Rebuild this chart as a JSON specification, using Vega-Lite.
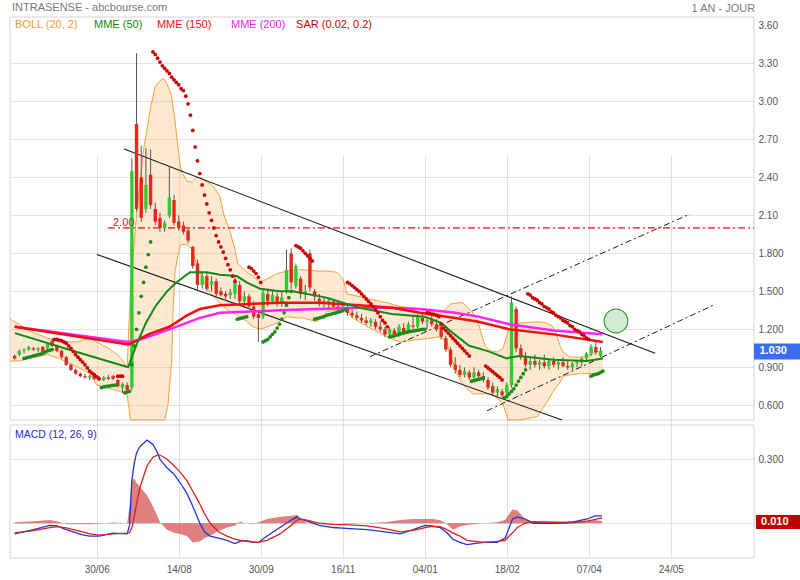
{
"$schema": "https://vega.github.io/schema/vega-lite/v6.json",
"width": 744, "height": 541,
"autosize": {"type": "none"},
"padding": {"left": 10, "top": 17, "right": 46, "bottom": 22},
"background": "white",
"config": {"view": {"stroke": null}, "font": "Liberation Sans", "axis": {"labelFont": "Liberation Sans", "labelFontSize": 10, "labelColor": "#555555", "gridColor": "#e2e2e2", "domain": false, "ticks": false, "titleOpacity": 0}},
"datasets": {
"candles": [
{"d":2,"o":0.99,"h":1.00,"l":0.96,"c":0.97},{"d":4,"o":1.00,"h":1.04,"l":0.99,"c":1.03},{"d":6,"o":1.03,"h":1.05,"l":1.01,"c":1.04},{"d":8,"o":1.04,"h":1.07,"l":1.03,"c":1.06},{"d":10,"o":1.05,"h":1.06,"l":1.03,"c":1.04},{"d":12,"o":1.04,"h":1.06,"l":1.02,"c":1.05},{"d":14,"o":1.06,"h":1.07,"l":1.01,"c":1.02},{"d":16,"o":1.05,"h":1.10,"l":1.04,"c":1.09},{"d":18,"o":1.11,"h":1.13,"l":1.06,"c":1.07},{"d":20,"o":1.07,"h":1.08,"l":1.02,"c":1.03},
{"d":22,"o":1.03,"h":1.04,"l":0.97,"c":0.98},{"d":24,"o":0.98,"h":0.99,"l":0.91,"c":0.92},{"d":26,"o":0.92,"h":0.93,"l":0.87,"c":0.88},{"d":28,"o":0.88,"h":0.89,"l":0.84,"c":0.85},{"d":30,"o":0.85,"h":0.86,"l":0.82,"c":0.83},{"d":32,"o":0.83,"h":0.85,"l":0.81,"c":0.82},{"d":34,"o":0.82,"h":0.84,"l":0.80,"c":0.83},{"d":36,"o":0.84,"h":0.85,"l":0.80,"c":0.81},{"d":38,"o":0.81,"h":0.83,"l":0.79,"c":0.80},{"d":40,"o":0.80,"h":0.83,"l":0.79,"c":0.82},
{"d":42,"o":0.82,"h":0.84,"l":0.80,"c":0.81},{"d":44,"o":0.83,"h":0.84,"l":0.80,"c":0.81},{"d":46,"o":0.80,"h":0.81,"l":0.74,"c":0.75},{"d":48,"o":0.74,"h":0.78,"l":0.70,"c":0.77},{"d":50,"o":0.76,"h":0.78,"l":0.71,"c":0.72},{"d":52,"o":0.74,"h":2.55,"l":0.72,"c":2.45},{"d":54,"o":2.82,"h":3.38,"l":2.13,"c":2.15},{"d":56,"o":2.40,"h":2.65,"l":2.05,"c":2.08},{"d":58,"o":2.15,"h":2.63,"l":2.12,"c":2.34},{"d":60,"o":2.42,"h":2.62,"l":2.15,"c":2.18},
{"d":62,"o":2.15,"h":2.20,"l":2.02,"c":2.05},{"d":64,"o":2.08,"h":2.12,"l":1.97,"c":2.00},{"d":66,"o":2.00,"h":2.06,"l":1.97,"c":2.04},{"d":68,"o":2.10,"h":2.48,"l":2.08,"c":2.24},{"d":70,"o":2.22,"h":2.26,"l":2.02,"c":2.04},{"d":72,"o":2.05,"h":2.10,"l":1.98,"c":2.00},{"d":74,"o":2.02,"h":2.05,"l":1.95,"c":1.97},{"d":76,"o":1.98,"h":2.00,"l":1.88,"c":1.90},{"d":78,"o":1.85,"h":1.86,"l":1.68,"c":1.70},{"d":80,"o":1.72,"h":1.75,"l":1.50,"c":1.55},
{"d":82,"o":1.55,"h":1.66,"l":1.52,"c":1.62},{"d":84,"o":1.62,"h":1.65,"l":1.50,"c":1.52},{"d":86,"o":1.55,"h":1.62,"l":1.50,"c":1.58},{"d":88,"o":1.58,"h":1.60,"l":1.46,"c":1.48},{"d":90,"o":1.50,"h":1.53,"l":1.46,"c":1.47},{"d":92,"o":1.48,"h":1.50,"l":1.44,"c":1.46},{"d":94,"o":1.47,"h":1.52,"l":1.44,"c":1.49},{"d":96,"o":1.48,"h":1.62,"l":1.44,"c":1.58},{"d":98,"o":1.55,"h":1.58,"l":1.40,"c":1.42},{"d":100,"o":1.42,"h":1.50,"l":1.38,"c":1.46},
{"d":102,"o":1.46,"h":1.48,"l":1.36,"c":1.38},{"d":104,"o":1.38,"h":1.42,"l":1.28,"c":1.30},{"d":106,"o":1.32,"h":1.35,"l":1.10,"c":1.29},{"d":108,"o":1.30,"h":1.52,"l":1.28,"c":1.49},{"d":110,"o":1.48,"h":1.52,"l":1.38,"c":1.42},{"d":112,"o":1.42,"h":1.50,"l":1.40,"c":1.47},{"d":114,"o":1.46,"h":1.49,"l":1.38,"c":1.40},{"d":116,"o":1.40,"h":1.50,"l":1.38,"c":1.45},{"d":118,"o":1.50,"h":1.83,"l":1.48,"c":1.67},{"d":120,"o":1.80,"h":1.84,"l":1.52,"c":1.57},
{"d":122,"o":1.54,"h":1.72,"l":1.52,"c":1.70},{"d":124,"o":1.60,"h":1.62,"l":1.44,"c":1.48},{"d":126,"o":1.48,"h":1.55,"l":1.43,"c":1.50},{"d":128,"o":1.80,"h":1.83,"l":1.50,"c":1.53},{"d":130,"o":1.50,"h":1.52,"l":1.42,"c":1.46},{"d":132,"o":1.44,"h":1.48,"l":1.38,"c":1.42},{"d":134,"o":1.42,"h":1.46,"l":1.37,"c":1.40},{"d":136,"o":1.40,"h":1.45,"l":1.36,"c":1.43},{"d":138,"o":1.42,"h":1.44,"l":1.36,"c":1.38},{"d":140,"o":1.38,"h":1.42,"l":1.34,"c":1.36},
{"d":142,"o":1.36,"h":1.40,"l":1.33,"c":1.38},{"d":144,"o":1.37,"h":1.39,"l":1.31,"c":1.33},{"d":146,"o":1.33,"h":1.36,"l":1.29,"c":1.31},{"d":148,"o":1.31,"h":1.34,"l":1.27,"c":1.29},{"d":150,"o":1.29,"h":1.32,"l":1.25,"c":1.27},{"d":152,"o":1.27,"h":1.30,"l":1.23,"c":1.25},{"d":154,"o":1.25,"h":1.29,"l":1.22,"c":1.27},{"d":156,"o":1.26,"h":1.28,"l":1.20,"c":1.22},{"d":158,"o":1.22,"h":1.26,"l":1.18,"c":1.20},{"d":160,"o":1.20,"h":1.22,"l":1.14,"c":1.16},
{"d":162,"o":1.16,"h":1.22,"l":1.14,"c":1.20},{"d":164,"o":1.19,"h":1.21,"l":1.13,"c":1.15},{"d":166,"o":1.15,"h":1.24,"l":1.14,"c":1.22},{"d":168,"o":1.21,"h":1.25,"l":1.16,"c":1.18},{"d":170,"o":1.18,"h":1.26,"l":1.17,"c":1.24},{"d":172,"o":1.23,"h":1.30,"l":1.20,"c":1.22},{"d":174,"o":1.22,"h":1.32,"l":1.21,"c":1.30},{"d":176,"o":1.29,"h":1.33,"l":1.24,"c":1.26},{"d":178,"o":1.26,"h":1.30,"l":1.20,"c":1.27},{"d":180,"o":1.27,"h":1.33,"l":1.22,"c":1.24},
{"d":182,"o":1.24,"h":1.28,"l":1.18,"c":1.20},{"d":184,"o":1.22,"h":1.26,"l":1.12,"c":1.14},{"d":186,"o":1.13,"h":1.15,"l":1.02,"c":1.04},{"d":188,"o":1.04,"h":1.06,"l":0.90,"c":0.92},{"d":190,"o":0.92,"h":0.98,"l":0.85,"c":0.88},{"d":192,"o":0.88,"h":0.92,"l":0.82,"c":0.84},{"d":194,"o":0.84,"h":0.90,"l":0.82,"c":0.87},{"d":196,"o":0.86,"h":0.88,"l":0.80,"c":0.82},{"d":198,"o":0.82,"h":0.90,"l":0.81,"c":0.86},{"d":200,"o":0.86,"h":0.88,"l":0.80,"c":0.83},
{"d":202,"o":0.83,"h":0.86,"l":0.78,"c":0.80},{"d":204,"o":0.80,"h":0.82,"l":0.72,"c":0.74},{"d":206,"o":0.75,"h":0.78,"l":0.68,"c":0.70},{"d":208,"o":0.70,"h":0.75,"l":0.67,"c":0.73},{"d":210,"o":0.71,"h":0.73,"l":0.66,"c":0.68},{"d":212,"o":0.70,"h":0.78,"l":0.67,"c":0.76},{"d":214,"o":0.76,"h":1.46,"l":0.74,"c":1.41},{"d":216,"o":1.36,"h":1.38,"l":1.02,"c":1.05},{"d":218,"o":1.05,"h":1.08,"l":0.96,"c":0.98},{"d":220,"o":0.98,"h":1.02,"l":0.90,"c":0.92},
{"d":222,"o":0.92,"h":0.98,"l":0.88,"c":0.95},{"d":224,"o":0.95,"h":1.00,"l":0.90,"c":0.92},{"d":226,"o":0.92,"h":0.96,"l":0.88,"c":0.94},{"d":228,"o":0.94,"h":1.00,"l":0.89,"c":0.91},{"d":230,"o":0.91,"h":0.97,"l":0.88,"c":0.95},{"d":232,"o":0.95,"h":0.98,"l":0.90,"c":0.92},{"d":234,"o":0.92,"h":0.96,"l":0.88,"c":0.94},{"d":236,"o":0.94,"h":0.98,"l":0.90,"c":0.91},{"d":238,"o":0.91,"h":0.95,"l":0.88,"c":0.90},{"d":240,"o":0.90,"h":0.94,"l":0.88,"c":0.93},
{"d":242,"o":0.93,"h":0.96,"l":0.90,"c":0.94},{"d":244,"o":0.94,"h":0.98,"l":0.91,"c":0.97},{"d":246,"o":0.97,"h":1.02,"l":0.95,"c":1.01},{"d":248,"o":1.01,"h":1.08,"l":0.99,"c":1.06},{"d":250,"o":1.06,"h":1.10,"l":1.00,"c":1.02},{"d":252,"o":0.99,"h":1.06,"l":0.98,"c":1.03}
],
"bb": [
{"d":0,"u":1.28,"l":0.95},{"d":4,"u":1.24,"l":0.95},{"d":8,"u":1.19,"l":0.97},{"d":16,"u":1.13,"l":1.00},{"d":21,"u":1.10,"l":0.97},{"d":29,"u":1.10,"l":0.90},{"d":34,"u":1.13,"l":0.85},{"d":37,"u":1.10,"l":0.76},{"d":43,"u":1.04,"l":0.73},{"d":47,"u":0.98,"l":0.71},{"d":50,"u":0.90,"l":0.68},
{"d":51.5,"u":1.55,"l":0.485},{"d":54,"u":2.10,"l":0.485},{"d":57,"u":2.62,"l":0.485},{"d":60,"u":2.95,"l":0.485},{"d":62,"u":3.12,"l":0.485},{"d":65,"u":3.18,"l":0.485},{"d":66,"u":3.17,"l":0.485},{"d":67.4,"u":3.12,"l":0.60},{"d":69,"u":3.04,"l":0.95},{"d":69.6,"u":2.95,"l":1.35},{"d":70.4,"u":2.85,"l":1.65},{"d":71.3,"u":2.70,"l":1.75},{"d":72.6,"u":2.50,"l":1.86},{"d":73.4,"u":2.44,"l":1.87},{"d":75.5,"u":2.37,"l":1.87},{"d":77.7,"u":2.36,"l":1.83},{"d":79.8,"u":2.40,"l":1.70},{"d":81,"u":2.40,"l":1.65},{"d":82.4,"u":2.38,"l":1.58},{"d":85.4,"u":2.35,"l":1.49},{"d":86.6,"u":2.33,"l":1.46},{"d":89.6,"u":2.25,"l":1.41},{"d":91,"u":2.12,"l":1.38},{"d":93.9,"u":1.97,"l":1.34},{"d":96,"u":1.83,"l":1.32},{"d":97.3,"u":1.72,"l":1.31},{"d":98.2,"u":1.70,"l":1.30},{"d":101.2,"u":1.65,"l":1.26},{"d":103.7,"u":1.62,"l":1.22},{"d":106.7,"u":1.57,"l":1.20},{"d":110,"u":1.60,"l":1.22},{"d":114,"u":1.64,"l":1.25},{"d":118.3,"u":1.66,"l":1.30},{"d":122.5,"u":1.67,"l":1.29},{"d":125,"u":1.67,"l":1.29},{"d":131,"u":1.66,"l":1.26},{"d":135.3,"u":1.66,"l":1.34},{"d":139.6,"u":1.65,"l":1.35},{"d":142.1,"u":1.60,"l":1.36},{"d":143.8,"u":1.48,"l":1.33},{"d":146.4,"u":1.47,"l":1.29},{"d":150.7,"u":1.45,"l":1.24},{"d":153.6,"u":1.44,"l":1.21},{"d":158,"u":1.42,"l":1.17},{"d":160.9,"u":1.41,"l":1.14},{"d":166.5,"u":1.38,"l":1.10},{"d":175,"u":1.36,"l":1.12},{"d":183.5,"u":1.32,"l":1.14},{"d":186.5,"u":1.37,"l":1.10},{"d":188,"u":1.40,"l":0.99},{"d":192,"u":1.41,"l":0.80},{"d":193.3,"u":1.41,"l":0.76},{"d":197.5,"u":1.33,"l":0.69},{"d":199.3,"u":1.28,"l":0.69},{"d":202.7,"u":1.07,"l":0.69},{"d":205,"u":1.03,"l":0.69},{"d":207.8,"u":1.02,"l":0.66},{"d":210.4,"u":1.05,"l":0.61},{"d":212.5,"u":1.18,"l":0.485},{"d":215.5,"u":1.24,"l":0.485},{"d":217.7,"u":1.25,"l":0.485},{"d":225,"u":1.26,"l":0.51},{"d":229,"u":1.25,"l":0.62},{"d":231.8,"u":1.22,"l":0.71},{"d":233.4,"u":1.15,"l":0.75},{"d":234.7,"u":1.07,"l":0.78},{"d":236,"u":1.02,"l":0.83},{"d":239,"u":0.98,"l":0.84},{"d":243,"u":0.98,"l":0.85},{"d":246,"u":0.99,"l":0.85},{"d":250.5,"u":1.02,"l":0.85},{"d":253,"u":1.03,"l":0.85}
],
"m50": [{"d":2.1,"v":1.17},{"d":25,"v":1.04},{"d":50.4,"v":0.90},{"d":52,"v":0.98},{"d":54.5,"v":1.10},{"d":58,"v":1.25},{"d":62,"v":1.38},{"d":67,"v":1.50},{"d":71,"v":1.57},{"d":76.8,"v":1.65},{"d":84,"v":1.65},{"d":89.6,"v":1.63},{"d":96.8,"v":1.62},{"d":101,"v":1.57},{"d":106.7,"v":1.52},{"d":115,"v":1.50},{"d":120.7,"v":1.50},{"d":135,"v":1.45},{"d":149,"v":1.37},{"d":163,"v":1.32},{"d":177,"v":1.30},{"d":184,"v":1.25},{"d":189,"v":1.17},{"d":196,"v":1.07},{"d":203.6,"v":1.03},{"d":212,"v":0.97},{"d":214,"v":0.98},{"d":217.6,"v":0.99},{"d":231.7,"v":0.96},{"d":246,"v":0.95},{"d":253,"v":0.97}],
"m150": [{"d":2,"v":1.22},{"d":50.4,"v":1.08},{"d":52,"v":1.09},{"d":55,"v":1.12},{"d":59,"v":1.16},{"d":68,"v":1.22},{"d":75.5,"v":1.31},{"d":81,"v":1.36},{"d":89.6,"v":1.39},{"d":115,"v":1.41},{"d":132,"v":1.41},{"d":149,"v":1.39},{"d":163,"v":1.37},{"d":175,"v":1.33},{"d":190,"v":1.29},{"d":200,"v":1.26},{"d":213,"v":1.20},{"d":232,"v":1.16},{"d":253,"v":1.10}],
"m200": [{"d":2,"v":1.22},{"d":50.4,"v":1.10},{"d":55,"v":1.115},{"d":68,"v":1.20},{"d":81,"v":1.29},{"d":89.6,"v":1.33},{"d":115,"v":1.35},{"d":132,"v":1.36},{"d":149,"v":1.37},{"d":163,"v":1.37},{"d":175,"v":1.36},{"d":190,"v":1.33},{"d":200,"v":1.30},{"d":213,"v":1.24},{"d":232,"v":1.19},{"d":253,"v":1.16}],
"sar": [
{"d":6,"v":0.97,"s":"b"},{"d":7,"v":0.975,"s":"b"},{"d":8,"v":0.98,"s":"b"},{"d":9,"v":0.985,"s":"b"},{"d":10,"v":0.99,"s":"b"},{"d":11,"v":0.995,"s":"b"},{"d":12,"v":1.0,"s":"b"},{"d":13,"v":1.005,"s":"b"},{"d":14,"v":1.01,"s":"b"},{"d":15,"v":1.02,"s":"b"},{"d":16,"v":1.03,"s":"b"},{"d":17,"v":1.035,"s":"b"},{"d":18,"v":1.04,"s":"b"},
{"d":19,"v":1.12,"s":"a"},{"d":20,"v":1.12,"s":"a"},{"d":21,"v":1.115,"s":"a"},{"d":22,"v":1.11,"s":"a"},{"d":23,"v":1.10,"s":"a"},{"d":24,"v":1.09,"s":"a"},{"d":25,"v":1.07,"s":"a"},{"d":26,"v":1.05,"s":"a"},{"d":27,"v":1.025,"s":"a"},{"d":28,"v":1.00,"s":"a"},{"d":29,"v":0.98,"s":"a"},{"d":30,"v":0.96,"s":"a"},{"d":31,"v":0.94,"s":"a"},{"d":32,"v":0.92,"s":"a"},{"d":33,"v":0.895,"s":"a"},{"d":34,"v":0.87,"s":"a"},{"d":35,"v":0.855,"s":"a"},{"d":36,"v":0.84,"s":"a"},{"d":37,"v":0.825,"s":"a"},{"d":38,"v":0.81,"s":"a"},
{"d":39,"v":0.74,"s":"b"},{"d":40,"v":0.745,"s":"b"},{"d":41,"v":0.75,"s":"b"},{"d":42,"v":0.752,"s":"b"},{"d":43,"v":0.755,"s":"b"},{"d":44,"v":0.757,"s":"b"},{"d":45,"v":0.76,"s":"b"},
{"d":46,"v":0.83,"s":"a"},{"d":47,"v":0.83,"s":"a"},{"d":48,"v":0.83,"s":"a"},
{"d":49,"v":0.70,"s":"b"},{"d":50,"v":0.705,"s":"b"},{"d":51,"v":0.71,"s":"b"},
{"d":52,"v":0.92,"s":"b"},{"d":53,"v":1.07,"s":"b"},{"d":54,"v":1.20,"s":"b"},{"d":55,"v":1.33,"s":"b"},{"d":56,"v":1.46,"s":"b"},{"d":57,"v":1.57,"s":"b"},{"d":58,"v":1.69,"s":"b"},{"d":59,"v":1.79,"s":"b"},{"d":60,"v":1.89,"s":"b"},
{"d":61,"v":3.39,"s":"a"},{"d":62,"v":3.37,"s":"a"},{"d":63,"v":3.34,"s":"a"},{"d":64,"v":3.31,"s":"a"},{"d":65,"v":3.28,"s":"a"},{"d":66,"v":3.26,"s":"a"},{"d":67,"v":3.24,"s":"a"},{"d":68,"v":3.22,"s":"a"},{"d":69,"v":3.19,"s":"a"},{"d":70,"v":3.17,"s":"a"},{"d":71,"v":3.15,"s":"a"},{"d":72,"v":3.13,"s":"a"},{"d":73,"v":3.10,"s":"a"},{"d":74,"v":3.085,"s":"a"},{"d":75,"v":3.04,"s":"a"},{"d":76,"v":2.98,"s":"a"},{"d":77,"v":2.89,"s":"a"},{"d":78,"v":2.77,"s":"a"},{"d":79,"v":2.64,"s":"a"},{"d":80,"v":2.53,"s":"a"},{"d":81,"v":2.43,"s":"a"},{"d":82,"v":2.34,"s":"a"},{"d":83,"v":2.26,"s":"a"},{"d":84,"v":2.19,"s":"a"},{"d":85,"v":2.12,"s":"a"},{"d":86,"v":2.06,"s":"a"},{"d":87,"v":2.00,"s":"a"},{"d":88,"v":1.94,"s":"a"},{"d":89,"v":1.89,"s":"a"},{"d":90,"v":1.85,"s":"a"},{"d":91,"v":1.81,"s":"a"},{"d":92,"v":1.76,"s":"a"},{"d":93,"v":1.71,"s":"a"},{"d":94,"v":1.67,"s":"a"},{"d":95,"v":1.62,"s":"a"},{"d":96,"v":1.58,"s":"a"},
{"d":97,"v":1.28,"s":"b"},{"d":98,"v":1.285,"s":"b"},{"d":99,"v":1.29,"s":"b"},{"d":100,"v":1.295,"s":"b"},{"d":101,"v":1.30,"s":"b"},
{"d":102,"v":1.69,"s":"a"},{"d":103,"v":1.68,"s":"a"},{"d":104,"v":1.66,"s":"a"},{"d":105,"v":1.64,"s":"a"},{"d":106,"v":1.61,"s":"a"},{"d":107,"v":1.57,"s":"a"},
{"d":108,"v":1.10,"s":"b"},{"d":109,"v":1.11,"s":"b"},{"d":110,"v":1.12,"s":"b"},{"d":111,"v":1.14,"s":"b"},{"d":112,"v":1.16,"s":"b"},{"d":113,"v":1.18,"s":"b"},{"d":114,"v":1.21,"s":"b"},{"d":115,"v":1.24,"s":"b"},{"d":116,"v":1.28,"s":"b"},{"d":117,"v":1.33,"s":"b"},{"d":118,"v":1.39,"s":"b"},{"d":119,"v":1.45,"s":"b"},{"d":120,"v":1.50,"s":"b"},
{"d":122,"v":1.86,"s":"a"},{"d":123,"v":1.85,"s":"a"},{"d":124,"v":1.84,"s":"a"},{"d":125,"v":1.82,"s":"a"},{"d":126,"v":1.80,"s":"a"},{"d":127,"v":1.78,"s":"a"},{"d":128,"v":1.76,"s":"a"},{"d":129,"v":1.74,"s":"a"},
{"d":130,"v":1.28,"s":"b"},{"d":131,"v":1.285,"s":"b"},{"d":132,"v":1.29,"s":"b"},{"d":133,"v":1.295,"s":"b"},{"d":134,"v":1.30,"s":"b"},{"d":135,"v":1.31,"s":"b"},{"d":136,"v":1.315,"s":"b"},{"d":137,"v":1.32,"s":"b"},{"d":138,"v":1.325,"s":"b"},{"d":139,"v":1.33,"s":"b"},{"d":140,"v":1.335,"s":"b"},{"d":141,"v":1.34,"s":"b"},{"d":142,"v":1.35,"s":"b"},{"d":143,"v":1.355,"s":"b"},
{"d":144,"v":1.57,"s":"a"},{"d":145,"v":1.56,"s":"a"},{"d":146,"v":1.545,"s":"a"},{"d":147,"v":1.53,"s":"a"},{"d":148,"v":1.515,"s":"a"},{"d":149,"v":1.50,"s":"a"},{"d":150,"v":1.48,"s":"a"},{"d":151,"v":1.46,"s":"a"},{"d":152,"v":1.44,"s":"a"},{"d":153,"v":1.42,"s":"a"},{"d":154,"v":1.40,"s":"a"},{"d":155,"v":1.38,"s":"a"},{"d":156,"v":1.355,"s":"a"},{"d":157,"v":1.33,"s":"a"},{"d":158,"v":1.30,"s":"a"},{"d":159,"v":1.27,"s":"a"},{"d":160,"v":1.25,"s":"a"},{"d":161,"v":1.22,"s":"a"},
{"d":162,"v":1.14,"s":"b"},{"d":163,"v":1.145,"s":"b"},{"d":164,"v":1.15,"s":"b"},{"d":165,"v":1.155,"s":"b"},{"d":166,"v":1.16,"s":"b"},{"d":167,"v":1.165,"s":"b"},{"d":168,"v":1.17,"s":"b"},{"d":169,"v":1.175,"s":"b"},{"d":170,"v":1.18,"s":"b"},{"d":171,"v":1.183,"s":"b"},{"d":172,"v":1.186,"s":"b"},{"d":173,"v":1.19,"s":"b"},{"d":174,"v":1.193,"s":"b"},{"d":175,"v":1.196,"s":"b"},{"d":176,"v":1.20,"s":"b"},{"d":177,"v":1.20,"s":"b"},
{"d":178,"v":1.33,"s":"a"},{"d":179,"v":1.325,"s":"a"},{"d":180,"v":1.32,"s":"a"},{"d":181,"v":1.315,"s":"a"},{"d":182,"v":1.31,"s":"a"},{"d":183,"v":1.30,"s":"a"},{"d":184,"v":1.24,"s":"a"},{"d":185,"v":1.21,"s":"a"},{"d":186,"v":1.19,"s":"a"},{"d":187,"v":1.17,"s":"a"},{"d":188,"v":1.15,"s":"a"},{"d":189,"v":1.13,"s":"a"},{"d":190,"v":1.11,"s":"a"},{"d":191,"v":1.09,"s":"a"},{"d":192,"v":1.07,"s":"a"},{"d":193,"v":1.05,"s":"a"},{"d":194,"v":1.03,"s":"a"},{"d":195,"v":1.01,"s":"a"},{"d":196,"v":0.99,"s":"a"},
{"d":197,"v":0.79,"s":"b"},{"d":198,"v":0.795,"s":"b"},{"d":199,"v":0.80,"s":"b"},{"d":200,"v":0.805,"s":"b"},{"d":201,"v":0.81,"s":"b"},{"d":202,"v":0.815,"s":"b"},
{"d":203,"v":0.91,"s":"a"},{"d":204,"v":0.895,"s":"a"},{"d":205,"v":0.88,"s":"a"},{"d":206,"v":0.865,"s":"a"},{"d":207,"v":0.85,"s":"a"},{"d":208,"v":0.835,"s":"a"},{"d":209,"v":0.82,"s":"a"},{"d":210,"v":0.80,"s":"a"},
{"d":211,"v":0.66,"s":"b"},{"d":212,"v":0.67,"s":"b"},{"d":213,"v":0.69,"s":"b"},{"d":214,"v":0.71,"s":"b"},{"d":215,"v":0.73,"s":"b"},{"d":216,"v":0.76,"s":"b"},{"d":217,"v":0.79,"s":"b"},{"d":218,"v":0.82,"s":"b"},{"d":219,"v":0.85,"s":"b"},{"d":220,"v":0.88,"s":"b"},
{"d":221,"v":1.48,"s":"a"},{"d":222,"v":1.47,"s":"a"},{"d":223,"v":1.45,"s":"a"},{"d":224,"v":1.44,"s":"a"},{"d":225,"v":1.43,"s":"a"},{"d":226,"v":1.41,"s":"a"},{"d":227,"v":1.40,"s":"a"},{"d":228,"v":1.38,"s":"a"},{"d":229,"v":1.37,"s":"a"},{"d":230,"v":1.36,"s":"a"},{"d":231,"v":1.34,"s":"a"},{"d":232,"v":1.33,"s":"a"},{"d":233,"v":1.31,"s":"a"},{"d":234,"v":1.30,"s":"a"},{"d":235,"v":1.29,"s":"a"},{"d":236,"v":1.27,"s":"a"},{"d":237,"v":1.26,"s":"a"},{"d":238,"v":1.25,"s":"a"},{"d":239,"v":1.23,"s":"a"},{"d":240,"v":1.22,"s":"a"},{"d":241,"v":1.20,"s":"a"},{"d":242,"v":1.19,"s":"a"},{"d":243,"v":1.18,"s":"a"},{"d":244,"v":1.16,"s":"a"},{"d":245,"v":1.15,"s":"a"},{"d":246,"v":1.13,"s":"a"},{"d":247,"v":1.12,"s":"a"},
{"d":248,"v":0.83,"s":"b"},{"d":249,"v":0.84,"s":"b"},{"d":250,"v":0.845,"s":"b"},{"d":251,"v":0.85,"s":"b"},{"d":252,"v":0.86,"s":"b"},{"d":253,"v":0.87,"s":"b"}
],
"chan": [{"d1":48.7,"p1":2.623,"d2":275.3,"p2":1.011},{"d1":37.1,"p1":1.791,"d2":235.6,"p2":0.484}],
"upch": [{"d1":153.6,"p1":0.984,"d2":290.2,"p2":2.110},{"d1":203.6,"p1":0.557,"d2":300.9,"p2":1.397}],
"target": [{"d":258.6,"p":1.266}],
"labels": [
{"d":0.85,"p":3.733,"t":"INTRASENSE - abcbourse.com","k":"hdr"},
{"d":2.13,"p":3.602,"t":"BOLL (20, 2)","k":"BOLL"},
{"d":35.85,"p":3.602,"t":"MME (50)","k":"MME50"},
{"d":62.7,"p":3.602,"t":"MME (150)","k":"MME150"},
{"d":94.3,"p":3.602,"t":"MME (200)","k":"MME200"},
{"d":122.1,"p":3.602,"t":"SAR (0.02, 0.2)","k":"SAR"},
{"d":44,"p":2.04,"t":"2.00","k":"lvl"}
],
"period": [{"d":318,"p":3.729,"t":"1 AN - JOUR"}],
"last": [{"d0":317.5,"d1":337.2,"lo":0.962,"hi":1.088,"dt":319.8,"p":1.025,"t":"1.030"}],
"macd": [
{"d":2,"m":-0.05,"s":-0.045,"h":0.005},{"d":10,"m":-0.03,"s":-0.035,"h":0.01},{"d":17,"m":-0.01,"s":-0.02,"h":0.015},{"d":20,"m":-0.012,"s":-0.016,"h":0.01},{"d":24,"m":-0.03,"s":-0.022,"h":-0.003},{"d":31,"m":-0.055,"s":-0.04,"h":-0.005},{"d":34,"m":-0.06,"s":-0.05,"h":-0.005},{"d":38,"m":-0.06,"s":-0.056,"h":-0.002},{"d":44,"m":-0.046,"s":-0.05,"h":0.003},{"d":50,"m":-0.05,"s":-0.046,"h":0.0},
{"d":51,"m":-0.01,"s":-0.044,"h":0.08},{"d":52,"m":0.20,"s":-0.02,"h":0.20},{"d":53,"m":0.28,"s":0.03,"h":0.21},{"d":54,"m":0.33,"s":0.09,"h":0.19},{"d":55.5,"m":0.36,"s":0.17,"h":0.17},{"d":58.5,"m":0.39,"s":0.27,"h":0.13},{"d":61,"m":0.37,"s":0.31,"h":0.08},{"d":63,"m":0.33,"s":0.32,"h":0.03},{"d":64,"m":0.30,"s":0.32,"h":0.005},{"d":67,"m":0.26,"s":0.30,"h":-0.03},
{"d":70,"m":0.23,"s":0.27,"h":-0.045},{"d":72.6,"m":0.19,"s":0.24,"h":-0.05},{"d":75.5,"m":0.14,"s":0.20,"h":-0.06},{"d":78,"m":0.08,"s":0.15,"h":-0.09},{"d":81,"m":0.0,"s":0.09,"h":-0.085},{"d":83,"m":-0.04,"s":0.045,"h":-0.07},{"d":85.4,"m":-0.06,"s":0.0,"h":-0.06},{"d":89,"m":-0.07,"s":-0.04,"h":-0.035},{"d":92.6,"m":-0.08,"s":-0.06,"h":-0.02},{"d":96,"m":-0.095,"s":-0.075,"h":-0.01},
{"d":98.2,"m":-0.085,"s":-0.08,"h":0.008},{"d":99.4,"m":-0.08,"s":-0.082,"h":0.002},{"d":103.7,"m":-0.088,"s":-0.088,"h":-0.003},{"d":106,"m":-0.09,"s":-0.09,"h":0.005},{"d":109.7,"m":-0.06,"s":-0.08,"h":0.02},{"d":115.2,"m":-0.02,"s":-0.05,"h":0.03},{"d":120,"m":0.015,"s":-0.01,"h":0.035},{"d":122.5,"m":0.03,"s":0.015,"h":0.04},{"d":124,"m":0.02,"s":0.02,"h":0.02},{"d":126.8,"m":0.01,"s":0.015,"h":0.002},
{"d":132,"m":-0.01,"s":0.0,"h":0.0},{"d":137.9,"m":-0.02,"s":-0.005,"h":0.0},{"d":145,"m":-0.025,"s":-0.008,"h":-0.002},{"d":152.4,"m":-0.03,"s":-0.012,"h":0.0},{"d":160,"m":-0.04,"s":-0.025,"h":0.005},{"d":166.5,"m":-0.05,"s":-0.04,"h":0.015},{"d":172,"m":-0.03,"s":-0.033,"h":0.02},{"d":177.1,"m":-0.01,"s":-0.02,"h":0.02},{"d":180,"m":-0.012,"s":-0.015,"h":0.02},{"d":183.5,"m":-0.02,"s":-0.016,"h":0.015},
{"d":186.5,"m":-0.045,"s":-0.03,"h":-0.005},{"d":189,"m":-0.075,"s":-0.045,"h":-0.03},{"d":192,"m":-0.09,"s":-0.06,"h":-0.015},{"d":195,"m":-0.10,"s":-0.08,"h":-0.008},{"d":201.9,"m":-0.09,"s":-0.09,"h":0.0},{"d":207.8,"m":-0.09,"s":-0.085,"h":0.005},{"d":211.3,"m":-0.07,"s":-0.08,"h":0.015},{"d":213.4,"m":-0.01,"s":-0.055,"h":0.05},{"d":214.5,"m":0.02,"s":-0.045,"h":0.065},{"d":216.5,"m":0.03,"s":-0.02,"h":0.06},
{"d":219.8,"m":0.02,"s":0.0,"h":0.02},{"d":223.2,"m":0.0,"s":0.008,"h":0.01},{"d":227.5,"m":0.0,"s":0.005,"h":0.012},{"d":234.7,"m":0.0,"s":0.002,"h":0.01},{"d":240,"m":0.005,"s":0.002,"h":0.01},{"d":246.3,"m":0.02,"s":0.01,"h":0.012},{"d":249.7,"m":0.035,"s":0.018,"h":0.015},{"d":252.7,"m":0.035,"s":0.025,"h":0.01}
],
"macdlabel": [{"d":2.13,"v":0.416,"t":"MACD (12, 26, 9)"}],
"macdlast": [{"d0":318.3,"d1":337.2,"lo":-0.027,"hi":0.039,"dt":320.5,"v":0.006,"t":"0.010"}]
},
"layer": [
{
"layer": [
{"data": {"name": "bb"}, "mark": {"type": "area", "color": "#f7b26b", "opacity": 0.3},
 "encoding": {"x": {"field": "d", "type": "quantitative", "title": null, "scale": {"domain": [0, 317.5], "nice": false, "zero": false, "padding": 0},
   "axis": {"orient": "bottom", "values": [37, 72, 107, 142, 177, 212, 247, 282], "labelExpr": "datum.value == 37 ? '30/06' : datum.value == 72 ? '14/08' : datum.value == 107 ? '30/09' : datum.value == 142 ? '16/11' : datum.value == 177 ? '04/01' : datum.value == 212 ? '18/02' : datum.value == 247 ? '07/04' : '24/05'", "grid": true, "labelPadding": 6, "labelFlush": false, "title": null}},
  "y": {"field": "u", "type": "quantitative", "title": null, "scale": {"domain": [0.484, 3.6655], "range": [403, 0], "nice": false, "zero": false, "padding": 0},
   "axis": {"orient": "right", "values": [0.6, 0.9, 1.2, 1.5, 1.8, 2.1, 2.4, 2.7, 3.0, 3.3, 3.6], "labelExpr": "datum.value >= 2 ? format(datum.value, '.2f') : format(datum.value, '.3f')", "grid": true, "gridOpacity": {"condition": {"test": "datum.value > 3.5", "value": 0}, "value": 1}, "labelPadding": 4, "title": null}},
  "y2": {"field": "l"}}},
{"data": {"values": [{}]}, "mark": {"type": "rect", "filled": false, "stroke": "#d4d4d4", "strokeWidth": 1},
 "encoding": {"x": {"datum": 0, "type": "quantitative", "title": null, "scale": {"domain": [0, 317.5], "nice": false, "zero": false, "padding": 0}}, "x2": {"datum": 317.5},
 "y": {"datum": 0.484, "type": "quantitative", "title": null, "scale": {"domain": [0.484, 3.6655], "range": [403, 0], "nice": false, "zero": false, "padding": 0}}, "y2": {"datum": 3.6655}}},
{"data": {"name": "bb"}, "mark": {"type": "line", "color": "#f5a03a", "strokeWidth": 1},
 "encoding": {"x": {"field": "d", "type": "quantitative", "title": null, "scale": {"domain": [0, 317.5], "nice": false, "zero": false, "padding": 0}},
  "y": {"field": "u", "type": "quantitative", "title": null, "scale": {"domain": [0.484, 3.6655], "range": [403, 0], "nice": false, "zero": false, "padding": 0}}}},
{"data": {"name": "bb"}, "mark": {"type": "line", "color": "#f5a03a", "strokeWidth": 1},
 "encoding": {"x": {"field": "d", "type": "quantitative", "title": null, "scale": {"domain": [0, 317.5], "nice": false, "zero": false, "padding": 0}},
  "y": {"field": "l", "type": "quantitative", "title": null, "scale": {"domain": [0.484, 3.6655], "range": [403, 0], "nice": false, "zero": false, "padding": 0}}}},
{"data": {"values": [{}]}, "mark": {"type": "rule", "color": "#e81010", "strokeWidth": 1.2, "strokeDash": [7, 3, 2, 3]},
 "encoding": {"x": {"datum": 41.8, "type": "quantitative", "title": null, "scale": {"domain": [0, 317.5], "nice": false, "zero": false, "padding": 0}}, "x2": {"datum": 317.5},
  "y": {"datum": 2.0, "type": "quantitative", "title": null, "scale": {"domain": [0.484, 3.6655], "range": [403, 0], "nice": false, "zero": false, "padding": 0}}}},
{"data": {"name": "chan"}, "mark": {"type": "rule", "color": "#1a1a1a", "strokeWidth": 1.1},
 "encoding": {"x": {"field": "d1", "type": "quantitative", "title": null, "scale": {"domain": [0, 317.5], "nice": false, "zero": false, "padding": 0}}, "x2": {"field": "d2"},
  "y": {"field": "p1", "type": "quantitative", "title": null, "scale": {"domain": [0.484, 3.6655], "range": [403, 0], "nice": false, "zero": false, "padding": 0}}, "y2": {"field": "p2"}}},
{"data": {"name": "upch"}, "mark": {"type": "rule", "color": "#1a1a1a", "strokeWidth": 1, "strokeDash": [6, 3, 2, 3]},
 "encoding": {"x": {"field": "d1", "type": "quantitative", "title": null, "scale": {"domain": [0, 317.5], "nice": false, "zero": false, "padding": 0}}, "x2": {"field": "d2"},
  "y": {"field": "p1", "type": "quantitative", "title": null, "scale": {"domain": [0.484, 3.6655], "range": [403, 0], "nice": false, "zero": false, "padding": 0}}, "y2": {"field": "p2"}}},
{"data": {"name": "candles"}, "mark": {"type": "rule", "color": "#555555", "strokeWidth": 1},
 "encoding": {"x": {"field": "d", "type": "quantitative", "title": null, "scale": {"domain": [0, 317.5], "nice": false, "zero": false, "padding": 0}},
  "y": {"field": "l", "type": "quantitative", "title": null, "scale": {"domain": [0.484, 3.6655], "range": [403, 0], "nice": false, "zero": false, "padding": 0}}, "y2": {"field": "h"}}},
{"data": {"name": "candles"}, "mark": {"type": "bar", "width": 3.4},
 "encoding": {"x": {"field": "d", "type": "quantitative", "title": null, "scale": {"domain": [0, 317.5], "nice": false, "zero": false, "padding": 0}},
  "y": {"field": "o", "type": "quantitative", "title": null, "scale": {"domain": [0.484, 3.6655], "range": [403, 0], "nice": false, "zero": false, "padding": 0}}, "y2": {"field": "c"},
  "color": {"condition": {"test": "datum.c >= datum.o", "value": "#2ecc2e"}, "value": "#e5281b"}}},
{"data": {"name": "m200"}, "mark": {"type": "line", "color": "#ff22ff", "strokeWidth": 2.5},
 "encoding": {"x": {"field": "d", "type": "quantitative", "title": null, "scale": {"domain": [0, 317.5], "nice": false, "zero": false, "padding": 0}},
  "y": {"field": "v", "type": "quantitative", "title": null, "scale": {"domain": [0.484, 3.6655], "range": [403, 0], "nice": false, "zero": false, "padding": 0}}}},
{"data": {"name": "m150"}, "mark": {"type": "line", "color": "#f01010", "strokeWidth": 2.5},
 "encoding": {"x": {"field": "d", "type": "quantitative", "title": null, "scale": {"domain": [0, 317.5], "nice": false, "zero": false, "padding": 0}},
  "y": {"field": "v", "type": "quantitative", "title": null, "scale": {"domain": [0.484, 3.6655], "range": [403, 0], "nice": false, "zero": false, "padding": 0}}}},
{"data": {"name": "m50"}, "mark": {"type": "line", "color": "#138a13", "strokeWidth": 2},
 "encoding": {"x": {"field": "d", "type": "quantitative", "title": null, "scale": {"domain": [0, 317.5], "nice": false, "zero": false, "padding": 0}},
  "y": {"field": "v", "type": "quantitative", "title": null, "scale": {"domain": [0.484, 3.6655], "range": [403, 0], "nice": false, "zero": false, "padding": 0}}}},
{"data": {"name": "sar"}, "mark": {"type": "point", "filled": true, "size": 14, "opacity": 1},
 "encoding": {"x": {"field": "d", "type": "quantitative", "title": null, "scale": {"domain": [0, 317.5], "nice": false, "zero": false, "padding": 0}},
  "y": {"field": "v", "type": "quantitative", "title": null, "scale": {"domain": [0.484, 3.6655], "range": [403, 0], "nice": false, "zero": false, "padding": 0}},
  "color": {"field": "s", "type": "nominal", "legend": null, "scale": {"domain": ["a", "b", "BOLL", "MME50", "MME150", "MME200", "SAR", "hdr", "lvl"], "range": ["#cc0000", "#1a8c1a", "#f59a2a", "#128412", "#ee1111", "#ee22ee", "#cc0000", "#7a7a7a", "#e01010"]}}}},
{"data": {"name": "target"}, "mark": {"type": "point", "filled": true, "size": 560, "fill": "#d3ead3", "stroke": "#3c9a3c", "strokeWidth": 1.2, "opacity": 1},
 "encoding": {"x": {"field": "d", "type": "quantitative", "title": null, "scale": {"domain": [0, 317.5], "nice": false, "zero": false, "padding": 0}},
  "y": {"field": "p", "type": "quantitative", "title": null, "scale": {"domain": [0.484, 3.6655], "range": [403, 0], "nice": false, "zero": false, "padding": 0}}}},
{"data": {"name": "labels"}, "mark": {"type": "text", "align": "left", "baseline": "middle", "fontSize": 11},
 "encoding": {"x": {"field": "d", "type": "quantitative", "title": null, "scale": {"domain": [0, 317.5], "nice": false, "zero": false, "padding": 0}},
  "y": {"field": "p", "type": "quantitative", "title": null, "scale": {"domain": [0.484, 3.6655], "range": [403, 0], "nice": false, "zero": false, "padding": 0}},
  "text": {"field": "t"},
  "color": {"field": "k", "type": "nominal", "legend": null, "scale": {"domain": ["a", "b", "BOLL", "MME50", "MME150", "MME200", "SAR", "hdr", "lvl"], "range": ["#cc0000", "#1a8c1a", "#f59a2a", "#128412", "#ee1111", "#ee22ee", "#cc0000", "#7a7a7a", "#e01010"]}}}},
{"data": {"name": "period"}, "mark": {"type": "text", "align": "right", "baseline": "middle", "fontSize": 11, "color": "#7a7a7a"},
 "encoding": {"x": {"field": "d", "type": "quantitative", "title": null, "scale": {"domain": [0, 317.5], "nice": false, "zero": false, "padding": 0}},
  "y": {"field": "p", "type": "quantitative", "title": null, "scale": {"domain": [0.484, 3.6655], "range": [403, 0], "nice": false, "zero": false, "padding": 0}},
  "text": {"field": "t"}}},
{"data": {"name": "last"}, "mark": {"type": "rect", "color": "#3a6cf4"},
 "encoding": {"x": {"field": "d0", "type": "quantitative", "title": null, "scale": {"domain": [0, 317.5], "nice": false, "zero": false, "padding": 0}}, "x2": {"field": "d1"},
  "y": {"field": "lo", "type": "quantitative", "title": null, "scale": {"domain": [0.484, 3.6655], "range": [403, 0], "nice": false, "zero": false, "padding": 0}}, "y2": {"field": "hi"}}},
{"data": {"name": "last"}, "mark": {"type": "text", "align": "left", "baseline": "middle", "fontSize": 11, "fontWeight": "bold", "color": "white"},
 "encoding": {"x": {"field": "dt", "type": "quantitative", "title": null, "scale": {"domain": [0, 317.5], "nice": false, "zero": false, "padding": 0}},
  "y": {"field": "p", "type": "quantitative", "title": null, "scale": {"domain": [0.484, 3.6655], "range": [403, 0], "nice": false, "zero": false, "padding": 0}},
  "text": {"field": "t"}}}
]
},
{
"layer": [
{"data": {"name": "macd"}, "mark": {"type": "area", "color": "#cc3030", "opacity": 0.62},
 "encoding": {"x": {"field": "d", "type": "quantitative", "title": null, "scale": {"domain": [0, 317.5], "nice": false, "zero": false, "padding": 0}},
  "y": {"field": "h", "type": "quantitative", "title": null, "scale": {"domain": [-0.163, 0.461], "range": [541, 408], "nice": false, "zero": false, "padding": 0},
   "axis": {"orient": "right", "values": [0, 0.3], "labelExpr": "datum.value == 0 ? '' : format(datum.value, '.3f')", "grid": true, "labelPadding": 4, "title": null}},
  "y2": {"datum": 0}}},
{"data": {"values": [{}]}, "mark": {"type": "rect", "filled": false, "stroke": "#d4d4d4", "strokeWidth": 1},
 "encoding": {"x": {"datum": 0, "type": "quantitative", "title": null, "scale": {"domain": [0, 317.5], "nice": false, "zero": false, "padding": 0}}, "x2": {"datum": 317.5},
 "y": {"datum": -0.163, "type": "quantitative", "title": null, "scale": {"domain": [-0.163, 0.461], "range": [541, 408], "nice": false, "zero": false, "padding": 0}}, "y2": {"datum": 0.461}}},
{"data": {"name": "macd"}, "mark": {"type": "line", "color": "#2233dd", "strokeWidth": 1.3},
 "encoding": {"x": {"field": "d", "type": "quantitative", "title": null, "scale": {"domain": [0, 317.5], "nice": false, "zero": false, "padding": 0}},
  "y": {"field": "m", "type": "quantitative", "title": null, "scale": {"domain": [-0.163, 0.461], "range": [541, 408], "nice": false, "zero": false, "padding": 0}}}},
{"data": {"name": "macd"}, "mark": {"type": "line", "color": "#dd2020", "strokeWidth": 1.3},
 "encoding": {"x": {"field": "d", "type": "quantitative", "title": null, "scale": {"domain": [0, 317.5], "nice": false, "zero": false, "padding": 0}},
  "y": {"field": "s", "type": "quantitative", "title": null, "scale": {"domain": [-0.163, 0.461], "range": [541, 408], "nice": false, "zero": false, "padding": 0}}}},
{"data": {"name": "macdlabel"}, "mark": {"type": "text", "align": "left", "baseline": "middle", "fontSize": 10.5, "color": "#2030c8"},
 "encoding": {"x": {"field": "d", "type": "quantitative", "title": null, "scale": {"domain": [0, 317.5], "nice": false, "zero": false, "padding": 0}},
  "y": {"field": "v", "type": "quantitative", "title": null, "scale": {"domain": [-0.163, 0.461], "range": [541, 408], "nice": false, "zero": false, "padding": 0}},
  "text": {"field": "t"}}},
{"data": {"name": "macdlast"}, "mark": {"type": "rect", "color": "#c00000"},
 "encoding": {"x": {"field": "d0", "type": "quantitative", "title": null, "scale": {"domain": [0, 317.5], "nice": false, "zero": false, "padding": 0}}, "x2": {"field": "d1"},
  "y": {"field": "lo", "type": "quantitative", "title": null, "scale": {"domain": [-0.163, 0.461], "range": [541, 408], "nice": false, "zero": false, "padding": 0}}, "y2": {"field": "hi"}}},
{"data": {"name": "macdlast"}, "mark": {"type": "text", "align": "left", "baseline": "middle", "fontSize": 11, "fontWeight": "bold", "color": "white"},
 "encoding": {"x": {"field": "dt", "type": "quantitative", "title": null, "scale": {"domain": [0, 317.5], "nice": false, "zero": false, "padding": 0}},
  "y": {"field": "v", "type": "quantitative", "title": null, "scale": {"domain": [-0.163, 0.461], "range": [541, 408], "nice": false, "zero": false, "padding": 0}},
  "text": {"field": "t"}}}
]
}
],
"resolve": {"scale": {"y": "independent"}, "axis": {"y": "independent"}}
}
